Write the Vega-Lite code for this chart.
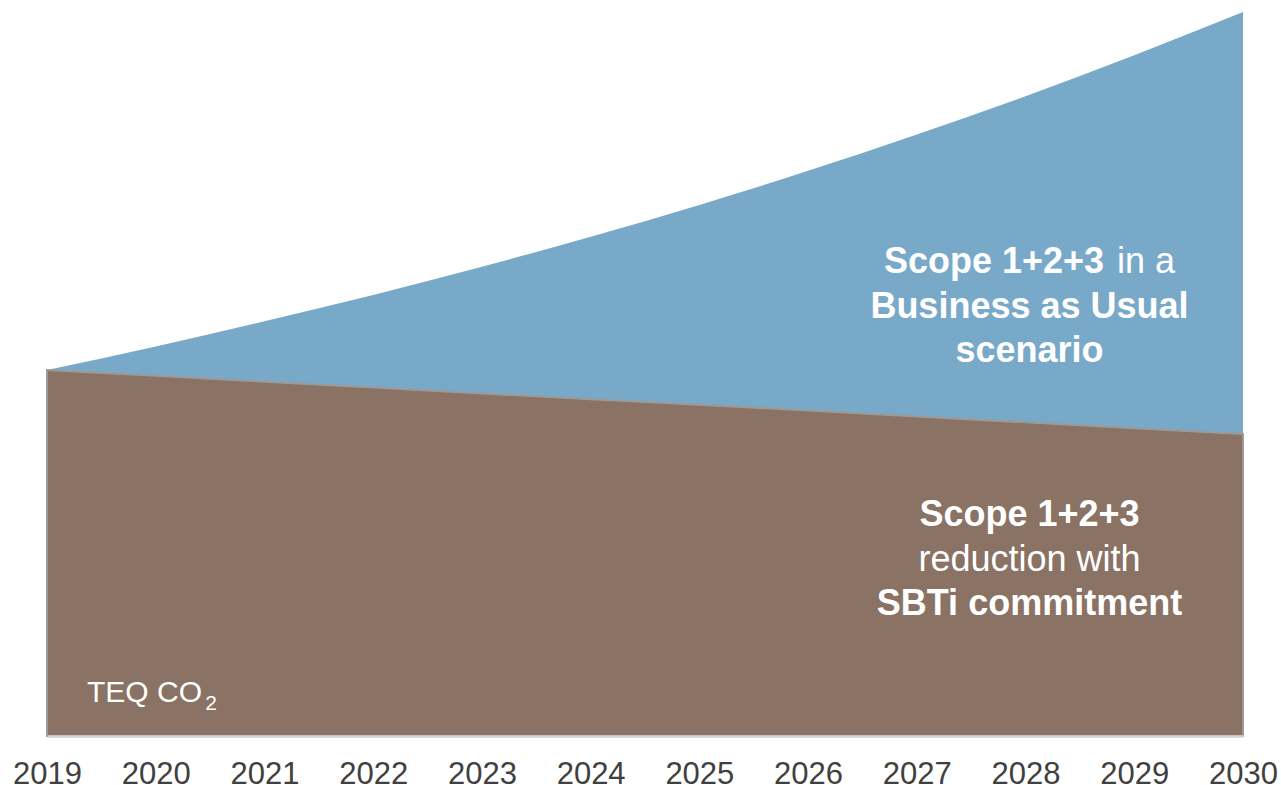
{
  "$schema": "https://vega.github.io/schema/vega-lite/v6.json",
  "width": 1196,
  "height": 724,
  "autosize": {"type": "none"},
  "padding": {"left": 47, "top": 12, "right": 38, "bottom": 49},
  "background": "white",
  "config": {"view": {"stroke": null}, "font": "Liberation Sans"},
  "datasets": {
    "series": [
      {"year": 2019, "bau": 100.0, "sbti": 100.0},
      {"year": 2020, "bau": 106.4, "sbti": 98.4},
      {"year": 2021, "bau": 113.3, "sbti": 96.8},
      {"year": 2022, "bau": 120.5, "sbti": 95.2},
      {"year": 2023, "bau": 128.2, "sbti": 93.6},
      {"year": 2024, "bau": 136.4, "sbti": 92.0},
      {"year": 2025, "bau": 145.1, "sbti": 90.5},
      {"year": 2026, "bau": 154.4, "sbti": 88.9},
      {"year": 2027, "bau": 164.3, "sbti": 87.3},
      {"year": 2028, "bau": 174.8, "sbti": 85.7},
      {"year": 2029, "bau": 186.0, "sbti": 84.1},
      {"year": 2030, "bau": 197.8, "sbti": 82.5}
    ],
    "boldCenter": [
      {"year": 2028.036, "value": 114.2, "text": "Business as Usual"},
      {"year": 2028.036, "value": 102.2, "text": "scenario"},
      {"year": 2028.036, "value": 57.4, "text": "Scope 1+2+3"},
      {"year": 2028.036, "value": 33.1, "text": "SBTi commitment"}
    ],
    "normalCenter": [
      {"year": 2028.036, "value": 45.1, "text": "reduction with"}
    ],
    "boldLeft": [
      {"year": 2026.698, "value": 126.5, "text": "Scope 1+2+3"}
    ],
    "normalRight": [
      {"year": 2029.375, "value": 126.5, "text": "in a"}
    ],
    "unitMain": [
      {"year": 2019.368, "value": 9.3, "text": "TEQ CO"}
    ],
    "unitSub": [
      {"year": 2020.455, "value": 7.1, "text": "2"}
    ]
  },
  "layer": [
    {
      "data": {"name": "series"},
      "mark": {"type": "area", "color": "#79A9C9", "interpolate": "monotone"},
      "encoding": {
        "x": {"field": "year", "type": "quantitative", "scale": {"domain": [2019, 2030], "nice": false, "zero": false},
          "axis": {"values": [2019, 2020, 2021, 2022, 2023, 2024, 2025, 2026, 2027, 2028, 2029, 2030], "format": "d", "title": null,
            "grid": false, "ticks": false, "tickSize": 0, "labelPadding": 23, "labelFontSize": 31, "labelColor": "#404040",
            "labelFont": "Liberation Sans", "domainColor": "#D4D4D4", "domainWidth": 2.5, "zindex": 1, "labelFlush": false, "labelOverlap": false}},
        "y": {"field": "bau", "type": "quantitative", "scale": {"domain": [0, 197.8], "nice": false}, "axis": null}
      }
    },
    {
      "data": {"name": "series"},
      "mark": {"type": "area", "color": "#8A7265", "stroke": "#9C9A98", "strokeWidth": 2},
      "encoding": {
        "x": {"field": "year", "type": "quantitative"},
        "y": {"field": "sbti", "type": "quantitative"}
      }
    },
    {
      "data": {"name": "boldCenter"},
      "mark": {"type": "text", "font": "Liberation Sans", "fontSize": 36, "fontWeight": "bold", "color": "white", "align": "center", "baseline": "alphabetic"},
      "encoding": {
        "x": {"field": "year", "type": "quantitative"},
        "y": {"field": "value", "type": "quantitative"},
        "text": {"field": "text"}
      }
    },
    {
      "data": {"name": "normalCenter"},
      "mark": {"type": "text", "font": "Liberation Sans", "fontSize": 36, "color": "white", "align": "center", "baseline": "alphabetic"},
      "encoding": {
        "x": {"field": "year", "type": "quantitative"},
        "y": {"field": "value", "type": "quantitative"},
        "text": {"field": "text"}
      }
    },
    {
      "data": {"name": "boldLeft"},
      "mark": {"type": "text", "font": "Liberation Sans", "fontSize": 36, "fontWeight": "bold", "color": "white", "align": "left", "baseline": "alphabetic"},
      "encoding": {
        "x": {"field": "year", "type": "quantitative"},
        "y": {"field": "value", "type": "quantitative"},
        "text": {"field": "text"}
      }
    },
    {
      "data": {"name": "normalRight"},
      "mark": {"type": "text", "font": "Liberation Sans", "fontSize": 36, "color": "white", "align": "right", "baseline": "alphabetic"},
      "encoding": {
        "x": {"field": "year", "type": "quantitative"},
        "y": {"field": "value", "type": "quantitative"},
        "text": {"field": "text"}
      }
    },
    {
      "data": {"name": "unitMain"},
      "mark": {"type": "text", "font": "Liberation Sans", "fontSize": 30, "color": "white", "align": "left", "baseline": "alphabetic"},
      "encoding": {
        "x": {"field": "year", "type": "quantitative"},
        "y": {"field": "value", "type": "quantitative"},
        "text": {"field": "text"}
      }
    },
    {
      "data": {"name": "unitSub"},
      "mark": {"type": "text", "font": "Liberation Sans", "fontSize": 21, "color": "white", "align": "left", "baseline": "alphabetic"},
      "encoding": {
        "x": {"field": "year", "type": "quantitative"},
        "y": {"field": "value", "type": "quantitative"},
        "text": {"field": "text"}
      }
    }
  ]
}
